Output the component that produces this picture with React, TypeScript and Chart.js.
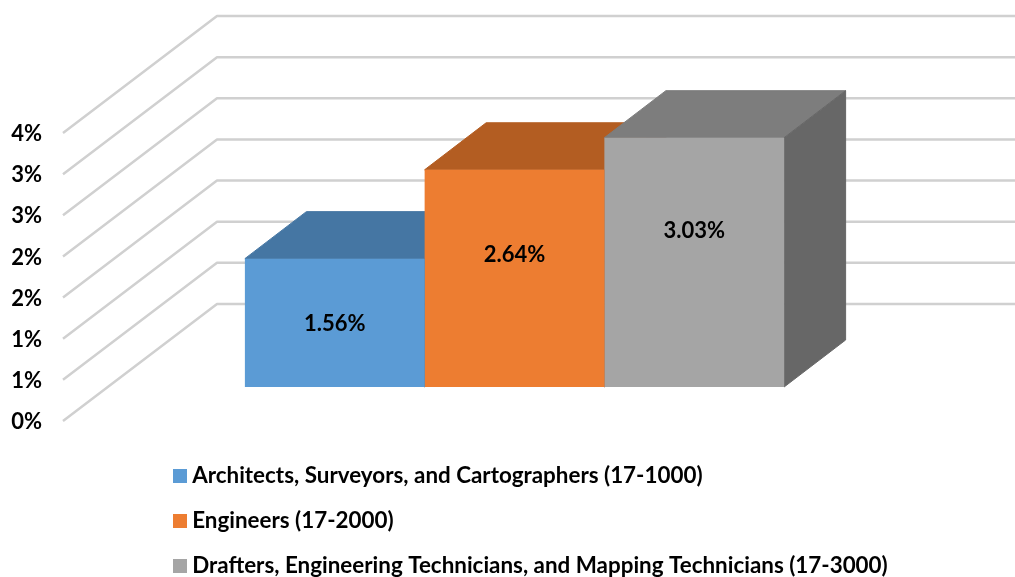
import React, { useEffect, useRef } from "react";
import { Chart, registerables } from "chart.js";

Chart.register(...registerables);

const categories = ["Occupations"];
const seriesNames = [
  "Architects, Surveyors, and Cartographers (17-1000)",
  "Engineers (17-2000)",
  "Drafters, Engineering Technicians, and Mapping Technicians (17-3000)",
];
const architects = [1.56];
const engineers = [2.64];
const drafters = [3.03];
const valueLabelAnchors = [0.77, 1.61, 1.9];
const frontColors = ["#5B9BD5", "#ED7D31", "#A5A5A5"];
const topColors = ["#4576A3", "#B35D22", "#7D7D7D"];
const sideColors = ["#3E6A92", "#9E5220", "#676767"];
const yTickLabels = ["0%", "1%", "1%", "2%", "2%", "3%", "3%", "4%"];

const FONT = "Lato, 'Noto Sans', sans-serif";
const TICK_SIZE = 22;
const LEGEND_SIZE = 22.4;
const LEGEND_PAD = 22.6;
const WALL = { dx: 155, dy: 117, right: 1015 };
const BAR_SHIFT = { dx: 44, dy: 34 };
const BAR_DEPTH = { dx: 61.5, dy: 47 };

function swatch(color: string) {
  const c = document.createElement("canvas");
  c.width = 14;
  c.height = 14;
  const g = c.getContext("2d")!;
  g.fillStyle = color;
  g.fillRect(0, 0, 14, 14);
  return c;
}

function poly(ctx: CanvasRenderingContext2D, pts: number[][], fill: string) {
  ctx.beginPath();
  pts.forEach(([x, y], i) => (i ? ctx.lineTo(x, y) : ctx.moveTo(x, y)));
  ctx.closePath();
  ctx.fillStyle = fill;
  ctx.strokeStyle = fill;
  ctx.lineWidth = 1;
  ctx.fill();
  ctx.stroke();
}

const depthPlugin = {
  id: "depth3d",
  afterLayout(chart: any) {
    const legend = chart.legend;
    legend.left = 179 - LEGEND_PAD;
    legend.top = 442.4;
    legend.right = 1015;
    legend.bottom = 640;
    legend.width = legend.right - legend.left;
    legend.height = legend.bottom - legend.top;
  },
  beforeDatasetsDraw(chart: any) {
    const { ctx } = chart;
    const y = chart.scales.y;
    const x0 = chart.chartArea.left;
    ctx.save();
    ctx.strokeStyle = "#D0D0D0";
    ctx.lineWidth = 2.5;
    ctx.lineJoin = "round";
    y.ticks.forEach((_t: any, i: number) => {
      const py = y.getPixelForTick(i);
      ctx.beginPath();
      ctx.moveTo(x0 + 1, py);
      ctx.lineTo(x0 + WALL.dx, py - WALL.dy);
      ctx.lineTo(WALL.right, py - WALL.dy);
      ctx.stroke();
    });
    ctx.translate(BAR_SHIFT.dx, -BAR_SHIFT.dy);
    chart.data.datasets.forEach((_d: any, i: number) => {
      const b = chart.getDatasetMeta(i).data[0];
      const l = b.x - b.width / 2;
      const r = b.x + b.width / 2;
      const { dx, dy } = BAR_DEPTH;
      poly(ctx, [[l, b.y], [l + dx, b.y - dy], [r + dx, b.y - dy], [r, b.y]], topColors[i]);
      poly(ctx, [[r, b.y], [r + dx, b.y - dy], [r + dx, b.base - dy], [r, b.base]], sideColors[i]);
    });
    ctx.restore();
    // bars proper are drawn by Chart.js inside the same shifted frame
    ctx.save();
    ctx.translate(BAR_SHIFT.dx, -BAR_SHIFT.dy);
  },
  afterDatasetsDraw(chart: any) {
    const { ctx } = chart;
    ctx.restore();
    ctx.save();
    ctx.translate(BAR_SHIFT.dx, -BAR_SHIFT.dy);
    ctx.fillStyle = "#000";
    ctx.font = `bold ${TICK_SIZE}px ${FONT}`;
    ctx.textAlign = "center";
    ctx.textBaseline = "middle";
    chart.data.datasets.forEach((d: any, i: number) => {
      const b = chart.getDatasetMeta(i).data[0];
      ctx.fillText(
        `${d.data[0].toFixed(2)}%`,
        b.x,
        chart.scales.y.getPixelForValue(valueLabelAnchors[i]),
      );
    });
    ctx.restore();
  },
};

export default function App() {
  const ref = useRef<HTMLCanvasElement>(null);
  useEffect(() => {
    const values = [architects, engineers, drafters];
    const chart = new Chart(ref.current!, {
      type: "bar",
      data: {
        labels: categories,
        datasets: seriesNames.map((label, i) => ({
          label,
          data: values[i],
          backgroundColor: frontColors[i],
          borderWidth: 0,
          categoryPercentage: 0.66,
          barPercentage: 1,
        })),
      },
      plugins: [depthPlugin],
      options: {
        responsive: false,
        animation: false,
        layout: { padding: { left: 0, top: 133, right: 136, bottom: 156 } },
        scales: {
          x: { display: false },
          y: {
            min: 0,
            max: 3.5,
            afterFit(axis: any) {
              axis.width = 62;
            },
            border: { display: false },
            grid: { display: false, drawTicks: false },
            ticks: {
              stepSize: 0.5,
              padding: 20,
              labelOffset: 1,
              color: "#000",
              font: { family: FONT, size: TICK_SIZE, weight: "bold" },
              callback: (_v: any, i: number) => yTickLabels[i],
            },
          },
        },
        plugins: {
          tooltip: { enabled: false },
          legend: {
            position: "chartArea",
            align: "start",
            labels: {
              usePointStyle: true,
              pointStyleWidth: 2,
              boxHeight: 14,
              padding: LEGEND_PAD,
              color: "#000",
              font: { family: FONT, size: LEGEND_SIZE, weight: "bold" },
              generateLabels(c: any) {
                return c.data.datasets.map((d: any, i: number) => ({
                  text: d.label,
                  fontColor: "#000",
                  pointStyle: swatch(frontColors[i]),
                  datasetIndex: i,
                  hidden: false,
                  lineWidth: 0,
                }));
              },
            },
          },
        },
      },
    } as any);
    return () => chart.destroy();
  }, []);
  return (
    <canvas
      ref={ref}
      width={1015}
      height={577}
      style={{ position: "absolute", left: 0, top: 0 }}
    />
  );
}
